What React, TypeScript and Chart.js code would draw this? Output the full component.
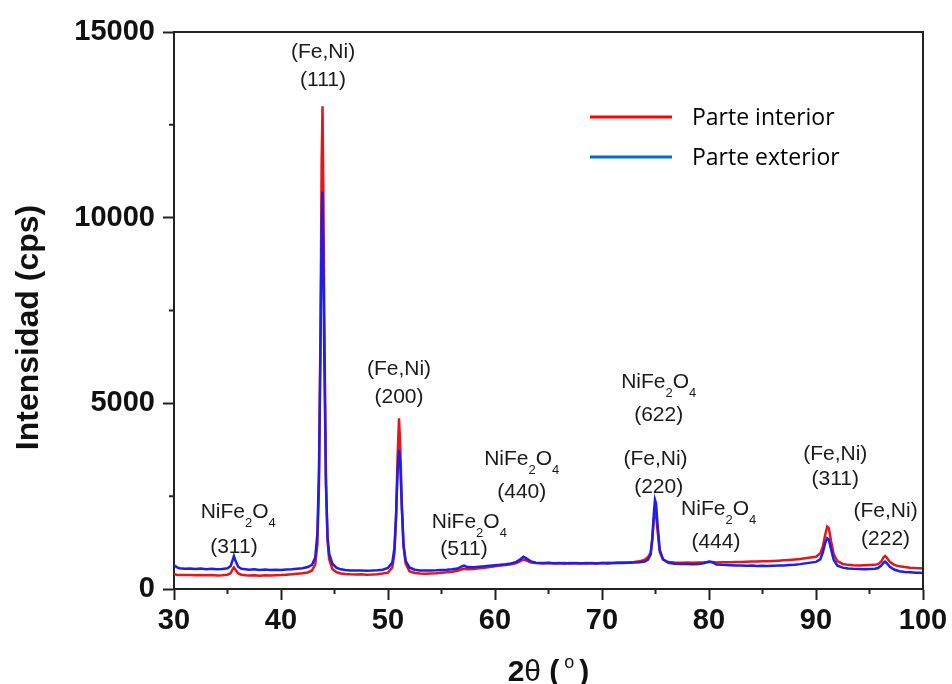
import React, { useEffect, useRef } from "react";
import { Chart, registerables } from "chart.js";

Chart.register(...registerables);

// 2θ (°) , intensity (cps) — "Parte interior" (red)
const interiorPoints: [number, number][] = [
  [30, 400], [30.25, 385], [30.5, 380], [31, 375], [31.5, 380], [32, 370], [32.5, 378], [33, 368], [33.5, 375], [34, 365],
  [34.5, 372], [35, 385], [35.3, 430], [35.5, 540], [35.6, 580], [35.75, 520], [36, 420], [36.3, 385], [36.7, 370], [37, 365],
  [37.5, 372], [38, 360], [38.5, 368], [39, 362], [39.5, 370], [40, 375], [40.5, 385], [41, 395], [41.5, 410], [42, 425],
  [42.5, 445], [42.9, 500], [43.2, 660], [43.4, 1200], [43.55, 2800], [43.7, 7200], [43.8, 11500], [43.88, 13000], [43.95, 11000], [44.05, 7200],
  [44.2, 3000], [44.35, 1300], [44.5, 800], [44.8, 540], [45.2, 450], [45.6, 420], [46, 405], [46.5, 395], [47, 390], [47.5, 395],
  [48, 385], [48.5, 390], [49, 400], [49.5, 415], [50, 440], [50.4, 580], [50.6, 950], [50.75, 1900], [50.9, 3600], [51.03, 4600],
  [51.15, 3800], [51.3, 2200], [51.45, 1150], [51.65, 680], [52, 480], [52.5, 430], [53, 415], [53.5, 410], [54, 420], [54.5, 425],
  [55, 440], [55.5, 450], [56, 465], [56.5, 490], [56.9, 530], [57.1, 545], [57.4, 530], [58, 540], [58.5, 560], [59, 575],
  [59.5, 595], [60, 615], [60.5, 630], [61, 645], [61.5, 665], [62, 700], [62.4, 760], [62.65, 790], [62.9, 770], [63.3, 720],
  [63.8, 700], [64.5, 690], [65, 700], [65.5, 690], [66, 695], [66.5, 700], [67, 690], [67.5, 700], [68, 695], [68.5, 690],
  [69, 700], [69.5, 695], [70, 700], [70.5, 705], [71, 700], [71.5, 710], [72, 715], [72.5, 720], [73, 730], [73.5, 745],
  [74, 790], [74.3, 860], [74.55, 980], [74.7, 1350], [74.85, 1900], [74.95, 2080], [75.05, 2000], [75.2, 1550], [75.4, 1000], [75.7, 790],
  [76.2, 725], [76.8, 715], [77.5, 710], [78, 712], [78.5, 708], [79, 712], [79.5, 718], [80, 728], [80.3, 724], [80.7, 715],
  [81.2, 718], [82, 722], [82.5, 726], [83, 730], [83.5, 734], [84, 738], [84.5, 742], [85, 745], [85.5, 750], [86, 756],
  [86.5, 764], [87, 772], [87.5, 782], [88, 795], [88.5, 810], [89, 830], [89.5, 850], [90, 870], [90.4, 960], [90.65, 1150],
  [90.85, 1450], [91.05, 1680], [91.2, 1640], [91.4, 1300], [91.65, 940], [92, 750], [92.5, 675], [93, 650], [93.5, 640], [94, 635],
  [94.5, 640], [95, 645], [95.5, 650], [95.8, 670], [96.1, 740], [96.3, 850], [96.45, 890], [96.6, 850], [96.9, 730], [97.3, 650],
  [97.8, 610], [98.3, 590], [98.8, 575], [99.3, 565], [99.7, 560], [100, 555],
];

// 2θ (°) , intensity (cps) — "Parte exterior" (blue)
const exteriorPoints: [number, number][] = [
  [30, 640], [30.25, 590], [30.5, 560], [31, 545], [31.5, 555], [32, 540], [32.5, 550], [33, 535], [33.5, 545], [34, 530],
  [34.5, 540], [35, 560], [35.3, 620], [35.5, 800], [35.6, 890], [35.75, 760], [36, 600], [36.3, 545], [36.7, 530], [37, 520],
  [37.5, 530], [38, 515], [38.5, 525], [39, 510], [39.5, 520], [40, 515], [40.5, 525], [41, 530], [41.5, 545], [42, 560],
  [42.5, 590], [42.9, 650], [43.2, 850], [43.4, 1500], [43.55, 3200], [43.7, 6800], [43.8, 9800], [43.86, 10700], [43.95, 9000], [44.05, 6200],
  [44.2, 2800], [44.35, 1400], [44.5, 950], [44.8, 680], [45.2, 570], [45.6, 530], [46, 510], [46.5, 500], [47, 495], [47.5, 500],
  [48, 490], [48.5, 495], [49, 505], [49.5, 520], [50, 570], [50.4, 710], [50.6, 1100], [50.75, 1950], [50.9, 3200], [51.03, 3740],
  [51.15, 3350], [51.3, 2150], [51.45, 1200], [51.65, 760], [52, 580], [52.5, 520], [53, 500], [53.5, 495], [54, 500], [54.5, 505],
  [55, 515], [55.5, 520], [56, 530], [56.5, 550], [56.9, 610], [57.1, 630], [57.4, 590], [58, 585], [58.5, 600], [59, 610],
  [59.5, 625], [60, 640], [60.5, 655], [61, 665], [61.5, 690], [62, 730], [62.4, 810], [62.65, 870], [62.9, 830], [63.3, 750],
  [63.8, 710], [64.5, 700], [65, 705], [65.5, 695], [66, 700], [66.5, 690], [67, 700], [67.5, 695], [68, 690], [68.5, 700],
  [69, 695], [69.5, 690], [70, 700], [70.5, 690], [71, 700], [71.5, 705], [72, 700], [72.5, 710], [73, 715], [73.5, 720],
  [74, 740], [74.3, 790], [74.55, 930], [74.7, 1350], [74.85, 2050], [74.95, 2400], [75.05, 2300], [75.2, 1700], [75.4, 1050], [75.7, 800],
  [76.2, 705], [76.8, 680], [77.5, 675], [78, 670], [78.5, 665], [79, 670], [79.5, 690], [80, 740], [80.3, 720], [80.7, 660],
  [81.2, 650], [82, 640], [82.5, 635], [83, 630], [83.5, 625], [84, 630], [84.5, 620], [85, 625], [85.5, 620], [86, 625],
  [86.5, 630], [87, 635], [87.5, 645], [88, 655], [88.5, 670], [89, 690], [89.5, 710], [90, 730], [90.4, 800], [90.65, 990],
  [90.85, 1230], [91.05, 1370], [91.2, 1330], [91.4, 1080], [91.65, 790], [92, 630], [92.5, 575], [93, 555], [93.5, 545], [94, 540],
  [94.5, 535], [95, 540], [95.5, 545], [95.8, 565], [96.1, 630], [96.3, 700], [96.45, 735], [96.6, 700], [96.9, 600], [97.3, 525],
  [97.8, 480], [98.3, 460], [98.8, 450], [99.3, 440], [99.7, 435], [100, 430],
];

const seriesLabels = ["Parte interior", "Parte exterior"];
const xMajorTicks = [30, 40, 50, 60, 70, 80, 90, 100];
const xMinorTicks = [35, 45, 55, 65, 75, 85, 95];
const yMajorTicks = [0, 5000, 10000, 15000];
const yMinorTicks = [2500, 7500, 12500];

// Peak annotations: [2θ, intensity, text] ; "_" marks a subscript character
const peakLabels: [number, number, string][] = [
  [43.93, 14515, "(Fe,Ni)"], [43.93, 13760, "(111)"],
  [51.03, 5978, "(Fe,Ni)"], [51.03, 5224, "(200)"],
  [36.0, 2127, "NiFe_2O_4"], [35.6, 1185, "(311)"],
  [57.6, 1858, "NiFe_2O_4"], [57.1, 1131, "(511)"],
  [62.5, 3555, "NiFe_2O_4"], [62.5, 2666, "(440)"],
  [75.3, 5628, "NiFe_2O_4"], [75.3, 4740, "(622)"],
  [75.0, 3555, "(Fe,Ni)"], [75.3, 2800, "(220)"],
  [80.9, 2208, "NiFe_2O_4"], [80.65, 1320, "(444)"],
  [91.8, 3690, "(Fe,Ni)"], [91.8, 3016, "(311)"],
  [96.5, 2154, "(Fe,Ni)"], [96.5, 1400, "(222)"],
];

const RED = "#e3161c";
const BLUE = "#1e1ee6";
const LEGEND_RED = "#ff0000";
const LEGEND_BLUE = "#0070c0";
const AXIS = "#222222";
const SANS = "'Liberation Sans', Arial, sans-serif";

function parseRich(text: string) {
  const segs: { t: string; sub: boolean }[] = [];
  for (let i = 0; i < text.length; i++) {
    if (text[i] === "_" && i + 1 < text.length) {
      segs.push({ t: text[i + 1], sub: true });
      i++;
    } else {
      const last = segs[segs.length - 1];
      if (last && !last.sub) last.t += text[i];
      else segs.push({ t: text[i], sub: false });
    }
  }
  return segs;
}

function drawRich(ctx: CanvasRenderingContext2D, text: string, cx: number, cy: number, size: number) {
  const segs = parseRich(text);
  const mainFont = `${size}px ${SANS}`;
  const subSize = Math.round(size * 0.62);
  const subFont = `${subSize}px ${SANS}`;
  let total = 0;
  const widths = segs.map((s) => {
    ctx.font = s.sub ? subFont : mainFont;
    const w = ctx.measureText(s.t).width;
    total += w;
    return w;
  });
  const baseline = cy + size * 0.36;
  let x = cx - total / 2;
  ctx.textAlign = "left";
  ctx.textBaseline = "alphabetic";
  segs.forEach((s, i) => {
    ctx.font = s.sub ? subFont : mainFont;
    ctx.fillText(s.t, x, s.sub ? baseline + size * 0.43 : baseline);
    x += widths[i];
  });
}

const decorPlugin = {
  id: "xrdDecor",
  afterDraw(chart: any) {
    const { ctx, chartArea: a, scales } = chart;
    const xs = scales.x;
    const ys = scales.y;
    ctx.save();
    // frame (top and right)
    ctx.strokeStyle = AXIS;
    ctx.lineWidth = 2;
    ctx.beginPath();
    ctx.moveTo(a.left - 1, a.top);
    ctx.lineTo(a.right, a.top);
    ctx.lineTo(a.right, a.bottom + 1);
    ctx.stroke();
    // minor ticks
    ctx.beginPath();
    for (const v of yMinorTicks) {
      const py = ys.getPixelForValue(v);
      ctx.moveTo(a.left - 5, py);
      ctx.lineTo(a.left, py);
    }
    for (const v of xMinorTicks) {
      const px = xs.getPixelForValue(v);
      ctx.moveTo(px, a.bottom);
      ctx.lineTo(px, a.bottom + 5);
    }
    ctx.stroke();

    // peak labels
    ctx.fillStyle = "#1a1a1a";
    for (const [vx, vy, text] of peakLabels) {
      drawRich(ctx, text, xs.getPixelForValue(vx), ys.getPixelForValue(vy), 21);
    }

    // legend
    const lx = a.right - 333;
    const ly = a.top + 85;
    const legendColors = [LEGEND_RED, LEGEND_BLUE];
    seriesLabels.forEach((label, i) => {
      const y = ly + i * 40;
      ctx.strokeStyle = legendColors[i];
      ctx.lineWidth = 3;
      ctx.beginPath();
      ctx.moveTo(lx, y);
      ctx.lineTo(lx + 82, y);
      ctx.stroke();
      ctx.fillStyle = "#000";
      ctx.font = `23px 'Open Sans', sans-serif`;
      ctx.textAlign = "left";
      ctx.textBaseline = "middle";
      ctx.fillText(label, lx + 102, y + 1);
    });

    // y axis title
    ctx.fillStyle = "#111";
    ctx.save();
    ctx.translate(29, (a.top + a.bottom) / 2 + 17);
    ctx.rotate(-Math.PI / 2);
    ctx.font = `bold 32px ${SANS}`;
    ctx.textAlign = "center";
    ctx.textBaseline = "middle";
    ctx.fillText("Intensidad (cps)", 0, 0);
    ctx.restore();

    // x axis title: 2θ ( ° )
    const parts: { t: string; font: string; dy: number }[] = [
      { t: "2", font: `bold 30px ${SANS}`, dy: 0 },
      { t: "θ", font: `30px ${SANS}`, dy: 0 },
      { t: " (", font: `bold 30px ${SANS}`, dy: 0 },
      { t: " o ", font: `18px ${SANS}`, dy: -13 },
      { t: ")", font: `bold 30px ${SANS}`, dy: 0 },
    ];
    let tw = 0;
    const pw = parts.map((p) => {
      ctx.font = p.font;
      const w = ctx.measureText(p.t).width;
      tw += w;
      return w;
    });
    let tx = (a.left + a.right) / 2 - tw / 2;
    const tb = 681;
    ctx.textAlign = "left";
    ctx.textBaseline = "alphabetic";
    parts.forEach((p, i) => {
      ctx.font = p.font;
      ctx.fillText(p.t, tx, tb + p.dy);
      tx += pw[i];
    });
    ctx.restore();
  },
};

export default function App() {
  const ref = useRef<HTMLCanvasElement | null>(null);
  useEffect(() => {
    if (!ref.current) return;
    const tickFont = { family: SANS, size: 29, weight: "bold" as const };
    const chart = new Chart(ref.current, {
      type: "line",
      data: {
        datasets: [
          {
            label: seriesLabels[1],
            data: exteriorPoints.map(([x, y]) => ({ x, y })),
            borderColor: BLUE,
            backgroundColor: BLUE,
            borderWidth: 2.5,
            pointRadius: 0,
            tension: 0,
            order: 1,
          },
          {
            label: seriesLabels[0],
            data: interiorPoints.map(([x, y]) => ({ x, y })),
            borderColor: RED,
            backgroundColor: RED,
            borderWidth: 2.5,
            pointRadius: 0,
            tension: 0,
            order: 2,
          },
        ],
      },
      options: {
        animation: false,
        responsive: true,
        maintainAspectRatio: false,
        layout: { padding: { top: 32, right: 29, left: 0, bottom: 0 } },
        plugins: { legend: { display: false }, tooltip: { enabled: false } },
        scales: {
          x: {
            type: "linear",
            min: xMajorTicks[0],
            max: xMajorTicks[xMajorTicks.length - 1],
            afterBuildTicks: (s: any) => {
              s.ticks = xMajorTicks.map((v) => ({ value: v }));
            },
            ticks: { font: tickFont, color: "#111", padding: 4, maxRotation: 0, autoSkip: false, callback: (v: any) => String(v) },
            grid: { drawOnChartArea: false, drawTicks: true, tickLength: 11, tickWidth: 2, tickColor: AXIS },
            border: { display: true, color: AXIS, width: 2 },
            afterFit: (s: any) => {
              s.height = 95;
            },
          },
          y: {
            type: "linear",
            min: yMajorTicks[0],
            max: yMajorTicks[yMajorTicks.length - 1],
            afterBuildTicks: (s: any) => {
              s.ticks = yMajorTicks.map((v) => ({ value: v }));
            },
            ticks: { font: tickFont, color: "#111", padding: 8, autoSkip: false, callback: (v: any) => String(v) },
            grid: { drawOnChartArea: false, drawTicks: true, tickLength: 11, tickWidth: 2, tickColor: AXIS },
            border: { display: true, color: AXIS, width: 2 },
            afterFit: (s: any) => {
              s.width = 174;
            },
          },
        },
      },
      plugins: [decorPlugin],
    });
    return () => chart.destroy();
  }, []);
  return (
    <div style={{ position: "absolute", left: 0, top: 0, width: 952, height: 684, background: "#fff" }}>
      <canvas ref={ref} />
    </div>
  );
}
